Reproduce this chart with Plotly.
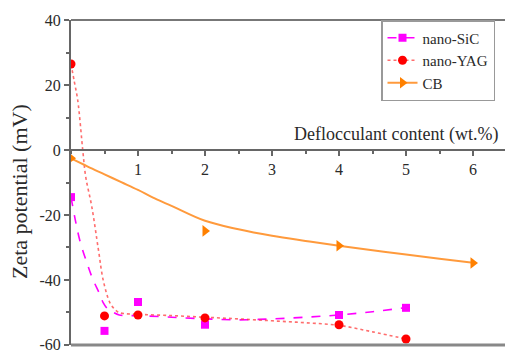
import plotly.graph_objects as go

# ---- data ----
x_sic = [0, 0.5, 1, 2, 4, 5]
y_sic = [-14.5, -55.7, -46.8, -53.8, -50.8, -48.6]
x_yag = [0, 0.5, 1, 2, 4, 5]
y_yag = [26.5, -51.1, -50.8, -51.7, -53.8, -58.2]
x_cb = [0, 2, 4, 6]
y_cb = [-2.5, -24.9, -29.5, -34.8]

# fitted curves as drawn in the picture
fit_sic_x = [0, 0.13, 0.25, 0.33, 0.42, 0.48, 0.55, 0.63, 0.72, 0.8, 1, 1.5, 2, 2.5, 3, 3.5, 4, 4.5, 5]
fit_sic_y = [-14.5, -27.7, -35.5, -40, -44, -47, -49, -50, -50.8, -51, -51, -51.5, -52, -52.3, -52, -51.5, -50.8, -49.8, -48.5]
fit_yag_x = [0, 0.05, 0.1, 0.18, 0.22, 0.31, 0.41, 0.48, 0.58, 0.65, 0.71, 0.8, 1, 1.5, 2, 2.5, 3, 3.5, 4, 4.5, 5]
fit_yag_y = [26.5, 21, 15.4, -1, -8.3, -17.4, -30.8, -40, -47, -49, -50, -50.4, -50.6, -51, -51.5, -52, -52.6, -53.2, -54, -56, -58.2]
fit_cb_x = [0, 0.25, 0.5, 0.75, 1, 1.25, 1.5, 2, 2.5, 3, 3.5, 4, 4.5, 5, 5.5, 6]
fit_cb_y = [-2.6, -5.1, -7.5, -9.9, -12.3, -14.9, -17.2, -21.8, -24.4, -26.4, -28.0, -29.5, -30.9, -32.2, -33.5, -34.7]

names = ["nano-SiC", "nano-YAG", "CB"]
y_tickvals = [40, 20, 0, -20, -40, -60]
y_ticktext = ["40", "20", "0", "-20", "-40", "-60"]
x_tickvals = [1, 2, 3, 4, 5, 6]
x_ticktext = ["1", "2", "3", "4", "5", "6"]

C_SIC = "#FF00FF"
C_YAG = "#FF0000"
C_CB = "#FF8000"
FONT = "Liberation Serif"
TXT = "#2a2a2a"

fig = go.Figure()

styles = [
    (fit_sic_x, fit_sic_y, x_sic, y_sic, C_SIC, C_SIC, "dash", "square", 8, 1.6),
    (fit_yag_x, fit_yag_y, x_yag, y_yag, C_YAG, "rgba(255,60,60,0.75)", "dot", "circle", 9, 1.6),
    (fit_cb_x, fit_cb_y, x_cb, y_cb, C_CB, "#FF9A3C", "solid", "triangle-right", 10, 2),
]
for name, (fx, fy, px, py, col, line_col, dash, sym, ms, lw) in zip(names, styles):
    fig.add_trace(go.Scatter(x=fx, y=fy, mode="lines", line=dict(color=line_col, dash=dash, width=lw, shape="spline"),
                             showlegend=False, hoverinfo="skip"))
    fig.add_trace(go.Scatter(x=px, y=py, mode="markers", marker=dict(color=col, symbol=sym, size=ms),
                             showlegend=False))
    fig.add_trace(go.Scatter(x=[None], y=[None], mode="lines+markers", name=name,
                             line=dict(color=line_col, dash=dash, width=lw),
                             marker=dict(color=col, symbol=sym, size=ms)))

L, T, B = 71, 20, 7
W, H = 505, 352
xmax = (W - L) / 67.0

fig.update_layout(
    width=W, height=H,
    margin=dict(l=L, r=0, t=T, b=B),
    paper_bgcolor="white", plot_bgcolor="white",
    font=dict(family=FONT, size=16, color=TXT),
    showlegend=True,
    legend=dict(x=(381 - L) / (W - L), y=1.0, xanchor="left", yanchor="top",
                bordercolor="#999999", borderwidth=1.5, bgcolor="white",
                font=dict(family=FONT, size=15, color=TXT),
                tracegroupgap=0, itemwidth=30),
    xaxis=dict(range=[0, xmax], anchor="free", position=0.6,
               showline=True, linecolor="#666666", linewidth=2,
               tickvals=x_tickvals, ticktext=x_ticktext,
               ticks="outside", ticklen=5, tickwidth=1.5, tickcolor="#666666",
               minor=dict(dtick=0.5, tick0=0, ticks="outside", ticklen=3, tickwidth=1.5, tickcolor="#666666"),
               showgrid=False, zeroline=False, tickfont=dict(size=16)),
    yaxis=dict(range=[-60.05, 40.05], domain=[0, 1],
               showline=True, linecolor="#666666", linewidth=2,
               tickvals=y_tickvals, ticktext=y_ticktext, ticklabeloverflow="allow",
               ticks="outside", ticklen=5, tickwidth=1.5, tickcolor="#666666",
               minor=dict(dtick=10, tick0=0, ticks="outside", ticklen=3, tickwidth=1.5, tickcolor="#666666"),
               showgrid=False, zeroline=False, tickfont=dict(size=16)),
    shapes=[
        dict(type="line", xref="paper", yref="paper", x0=0, x1=1, y0=1, y1=1,
             line=dict(color="#777777", width=2)),
        dict(type="line", xref="paper", yref="paper", x0=0, x1=1, y0=0, y1=0,
             line=dict(color="#888888", width=3)),
    ],
    annotations=[
        dict(text="Deflocculant content (wt.%)", xref="paper", yref="paper",
             x=(500 - L) / (W - L), y=(345 - 134) / 325, xanchor="right", yanchor="middle",
             showarrow=False, font=dict(family=FONT, size=18, color=TXT)),
        dict(text="Zeta potential (mV)", xref="paper", yref="paper",
             x=(20 - L) / (W - L), y=(345 - 192) / 325, xanchor="center", yanchor="middle",
             textangle=-90, showarrow=False, font=dict(family=FONT, size=22, color=TXT)),
    ],
)

fig.write_html("out.html")
